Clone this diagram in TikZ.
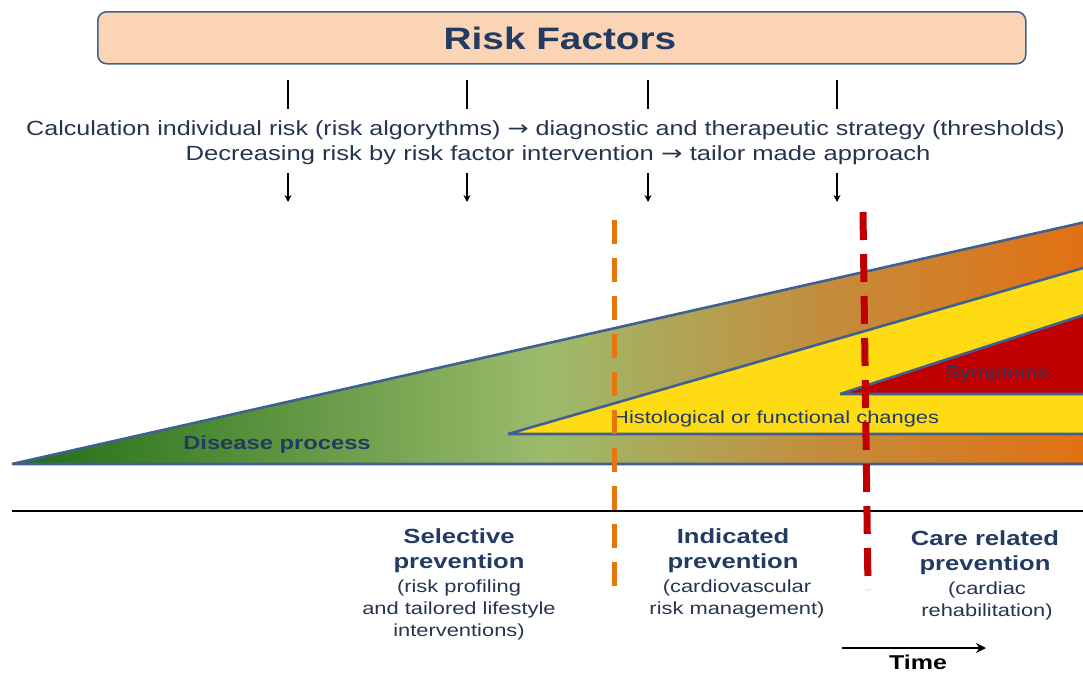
\documentclass[tikz,border=0pt]{standalone}
\usepackage{fontspec}
\setmainfont{Liberation Sans}
\newfontfamily\arrowfont{DejaVu Sans}
\usetikzlibrary{arrows.meta}
\definecolor{peach}{HTML}{FAD4B4}
\definecolor{edgeblue}{HTML}{3F6192}
\definecolor{navy}{HTML}{223B62}
\definecolor{txt}{HTML}{26344F}
\definecolor{gDark}{HTML}{1C6C12}
\definecolor{gLight}{HTML}{9CBB6C}
\definecolor{tan}{HTML}{C48C3C}
\definecolor{orng}{HTML}{E27012}
\definecolor{yel}{HTML}{FEDB12}
\definecolor{redd}{HTML}{C00000}
\definecolor{dashorange}{HTML}{E8760E}
% text is set slightly widened
\newcommand\wx[1]{\scalebox{1.25}[1]{#1}}
\newcommand\rarr{{\arrowfont →}}
\tikzset{
  riskbox/.style={draw=edgeblue, line width=1.5pt, fill=peach, rounded corners=9pt},
  bodytext/.style={text=txt, font=\fontsize{20.5}{24}\selectfont, inner sep=0pt},
  tick/.style={line width=2.2pt, black},
  down/.style={line width=1.6pt, black, -{Stealth[length=7pt,width=7pt]}},
  band/.style={draw=edgeblue, line width=2.6pt, line join=round},
  head/.style={text=navy, font=\bfseries\fontsize{20.5}{25}\selectfont, align=center, inner sep=0pt},
  sub/.style={text=txt, font=\fontsize{17.5}{22}\selectfont, align=center, inner sep=0pt},
  inlabel/.style={text=navy, font=\fontsize{17.5}{20}\selectfont, inner sep=0pt},
}
\begin{document}
\begin{tikzpicture}[x=1pt, y=-1pt]
\useasboundingbox (0,0) rectangle (1083,672);

% header box
\node[riskbox, minimum width=928pt, minimum height=52pt, anchor=north west] (rf) at (97,11) {};
\node[text=navy, font=\bfseries\fontsize{31}{34}\selectfont] (rft) at (560,38) {\wx{Risk Factors}};

% short ticks above the text lines and arrows below
\foreach \i/\x in {1/288, 2/467, 3/648, 4/837} {
  \coordinate (ta\i) at (\x,80);
  \coordinate (tb\i) at (\x,109);
  \coordinate (aa\i) at (\x,173);
  \coordinate (ab\i) at (\x,202);
  \draw[tick] (ta\i) -- (tb\i);
  \draw[down] (aa\i) -- (ab\i);
}
\node[bodytext, anchor=west] (l1) at (26,130) {\scalebox{1.225}[1]{Calculation individual risk (risk algorythms) \rarr{} diagnostic and therapeutic strategy (thresholds)}};
\node[bodytext] (l2) at (558,155) {\wx{Decreasing risk by risk factor intervention \rarr{} tailor made approach}};

% disease process band with horizontal colour gradient
\coordinate (dp1) at (12,464);
\coordinate (dp2) at (1090,221);
\coordinate (dp3) at (1090,464);
\begin{scope}
  \clip (dp1) -- (dp2) -- (dp3) -- cycle;
  \shade[left color=gDark, right color=gLight] (0,200) rectangle (545,470);
  \shade[left color=gLight, right color=tan] (544,200) rectangle (830,470);
  \shade[left color=tan, right color=orng] (829,200) rectangle (1090,470);
\end{scope}
\draw[band] (dp1) -- (dp2) (dp1) -- (dp3);

% histological changes
\coordinate (hc1) at (508,434);
\coordinate (hc2) at (1090,266);
\coordinate (hc3) at (1090,434);
\fill[yel] (hc1) -- (hc2) -- (hc3) -- cycle;
\draw[band] (hc1) -- (hc2) (hc1) -- (hc3);

% symptoms
\coordinate (sy1) at (840,394);
\coordinate (sy2) at (1090,313);
\coordinate (sy3) at (1090,394);
\fill[redd] (sy1) -- (sy2) -- (sy3) -- cycle;
\draw[band] (sy1) -- (sy2) (sy1) -- (sy3);

\node[inlabel] (sym) at (997,374) {\wx{Symptoms}};
\node[inlabel, anchor=west] (his) at (613,419) {\wx{Histological or functional changes}};
\node[text=navy, font=\bfseries\fontsize{19}{22}\selectfont] (dis) at (277,445) {\wx{Disease process}};

% time axis
\coordinate (ax1) at (12,511);
\coordinate (ax2) at (1083,511);
\draw[line width=2.6pt, black] (ax1) -- (ax2);

% phase boundaries
\coordinate (ob1) at (614,220);
\coordinate (ob2) at (614,588);
\draw[dashorange, line width=5pt, dash pattern=on 24pt off 14pt] (ob1) -- (ob2);
\coordinate (rb1) at (863,212);
\coordinate (rb2) at (868,590);
\draw[redd, line width=7pt, dash pattern=on 28pt off 14pt] (rb1) -- (rb2);

% prevention labels
\node[head] (sel) at (459,551) {\wx{Selective}\\\wx{prevention}};
\node[sub] (selx) at (459,610) {\wx{(risk profiling}\\\wx{and tailored lifestyle}\\\wx{interventions)}};
\node[head] (ind) at (733,551) {\wx{Indicated}\\\wx{prevention}};
\node[sub] (indx) at (737,599) {\wx{(cardiovascular}\\\wx{risk management)}};
\node[head] (car) at (985,553) {\wx{Care related}\\\wx{prevention}};
\node[sub] (carx) at (987,601) {\wx{(cardiac}\\\wx{rehabilitation)}};

% time arrow
\coordinate (tm1) at (842,648);
\coordinate (tm2) at (986,648);
\draw[line width=2.6pt, -{Stealth[length=10pt,width=10pt]}] (tm1) -- (tm2);
\node[text=black, font=\bfseries\fontsize{20}{22}\selectfont, inner sep=0pt] (time) at (918,662) {\wx{Time}};
\end{tikzpicture}
\end{document}
